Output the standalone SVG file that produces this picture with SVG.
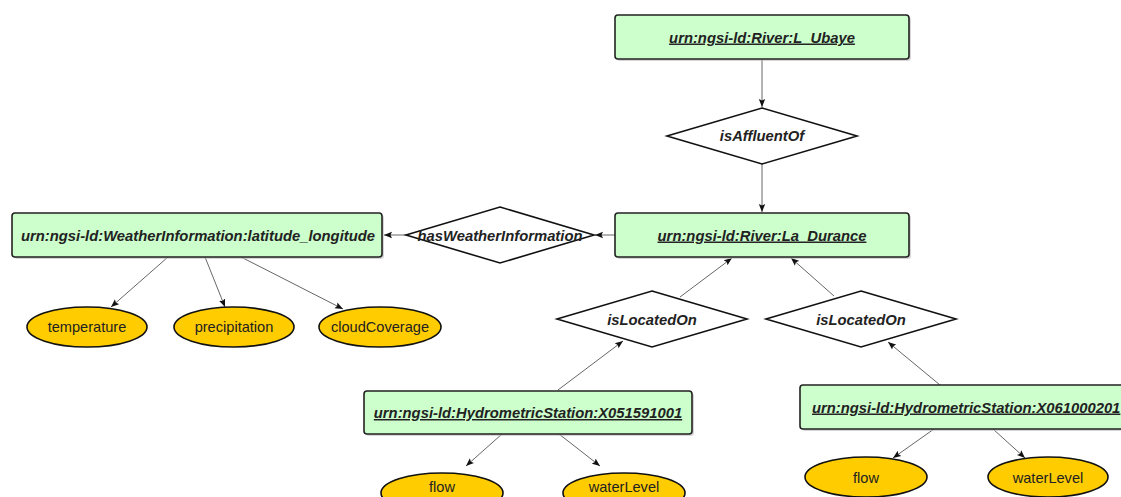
<svg xmlns="http://www.w3.org/2000/svg" width="1121" height="497" viewBox="0 0 1121 497">
<style>
.box{fill:#ccffcc;stroke:#222;stroke-width:1.6}
.dia{fill:#fff;stroke:#111;stroke-width:1.6}
.ell{fill:#ffcc00;stroke:#111;stroke-width:1.6}
.shadow{fill:#bbb;opacity:0.6}
.bt{font-family:"Liberation Sans",Arial,sans-serif;font-size:14.8px;font-weight:bold;font-style:italic;fill:#222;text-anchor:middle}
.u{text-decoration:underline}
.et{font-family:"Liberation Sans",Arial,sans-serif;font-size:14.6px;fill:#222;text-anchor:middle}
.con line{stroke:#555;stroke-width:0.9;marker-end:url(#arr)}
</style>
<defs>
<marker id="arr" markerUnits="userSpaceOnUse" markerWidth="9" markerHeight="8" refX="8" refY="4" orient="auto">
<path d="M0,0.8 L8,4 L0,7.2 L1.5,4 z" fill="#111"/>
</marker>
</defs>
<g id="connectors" class="con">
<line x1="762" y1="59" x2="762" y2="107"/>
<line x1="762" y1="164" x2="762" y2="212"/>
<line x1="615" y1="235" x2="595" y2="235"/>
<line x1="406" y1="235" x2="384" y2="235"/>
<line x1="168" y1="257" x2="111" y2="307"/>
<line x1="205" y1="257" x2="225" y2="307"/>
<line x1="241" y1="257" x2="343" y2="309"/>
<line x1="680" y1="297" x2="732" y2="258"/>
<line x1="834" y1="296" x2="791" y2="258"/>
<line x1="558" y1="390" x2="623" y2="341"/>
<line x1="940" y1="385" x2="888" y2="342"/>
<line x1="502" y1="434" x2="466" y2="466"/>
<line x1="559" y1="434" x2="600" y2="466"/>
<line x1="934" y1="429" x2="893" y2="458"/>
<line x1="993" y1="429" x2="1025" y2="458"/>
</g>
<g id="n-ubaye">
<rect class="shadow" x="617" y="17" width="294" height="44" rx="3"/>
<rect class="box" x="615" y="15" width="294" height="44" rx="3"/>
<text class="bt u" x="762" y="42.5">urn:ngsi-ld:River:L_Ubaye</text>
</g>
<g id="n-isAffluentOf">
<polygon class="dia" points="762,108 857,136 762,164 667,136"/>
<text class="bt" x="762" y="141">isAffluentOf</text>
</g>
<g id="n-durance">
<rect class="shadow" x="617" y="215" width="294" height="44" rx="3"/>
<rect class="box" x="615" y="213" width="294" height="44" rx="3"/>
<text class="bt u" x="762" y="240.5">urn:ngsi-ld:River:La_Durance</text>
</g>
<g id="n-hasWeather">
<polygon class="dia" points="500,207 594,235 500,263 406,235"/>
<text class="bt" x="500" y="240.5">hasWeatherInformation</text>
</g>
<g id="n-weather">
<rect class="shadow" x="14" y="215" width="370" height="44" rx="3"/>
<rect class="box" x="12" y="213" width="370" height="44" rx="3"/>
<text class="bt" x="198" y="240.5">urn:ngsi-ld:WeatherInformation:latitude_longitude</text>
</g>
<g id="n-temperature">
<ellipse class="ell" cx="87" cy="327" rx="60" ry="20"/>
<text class="et" x="87" y="332">temperature</text>
</g>
<g id="n-precipitation">
<ellipse class="ell" cx="234" cy="327" rx="60" ry="20"/>
<text class="et" x="234" y="332">precipitation</text>
</g>
<g id="n-cloudCoverage">
<ellipse class="ell" cx="380" cy="327" rx="61" ry="20"/>
<text class="et" x="380" y="332">cloudCoverage</text>
</g>
<g id="n-isLocatedOn1">
<polygon class="dia" points="652,291 747,319 652,347 557,319"/>
<text class="bt" x="652" y="324.5">isLocatedOn</text>
</g>
<g id="n-isLocatedOn2">
<polygon class="dia" points="861,291 956,319 861,347 766,319"/>
<text class="bt" x="861" y="324.5">isLocatedOn</text>
</g>
<g id="n-station1">
<rect class="shadow" x="366" y="393" width="328" height="43" rx="3"/>
<rect class="box" x="364" y="391" width="328" height="43" rx="3"/>
<text class="bt u" x="528" y="418">urn:ngsi-ld:HydrometricStation:X051591001</text>
</g>
<g id="n-station2">
<rect class="shadow" x="802" y="387" width="340" height="44" rx="3"/>
<rect class="box" x="800" y="385" width="340" height="44" rx="3"/>
<text class="bt u" x="812" y="412.5" style="text-anchor:start">urn:ngsi-ld:HydrometricStation:X061000201</text>
</g>
<g id="n-flow1">
<ellipse class="ell" cx="442" cy="493" rx="61" ry="20"/>
<text class="et" x="442" y="492">flow</text>
</g>
<g id="n-waterLevel1">
<ellipse class="ell" cx="624" cy="493" rx="61" ry="20"/>
<text class="et" x="624" y="492">waterLevel</text>
</g>
<g id="n-flow2">
<ellipse class="ell" cx="866" cy="477" rx="61" ry="20"/>
<text class="et" x="866" y="483">flow</text>
</g>
<g id="n-waterLevel2">
<ellipse class="ell" cx="1048" cy="477" rx="60" ry="20"/>
<text class="et" x="1048" y="483">waterLevel</text>
</g>
</svg>
